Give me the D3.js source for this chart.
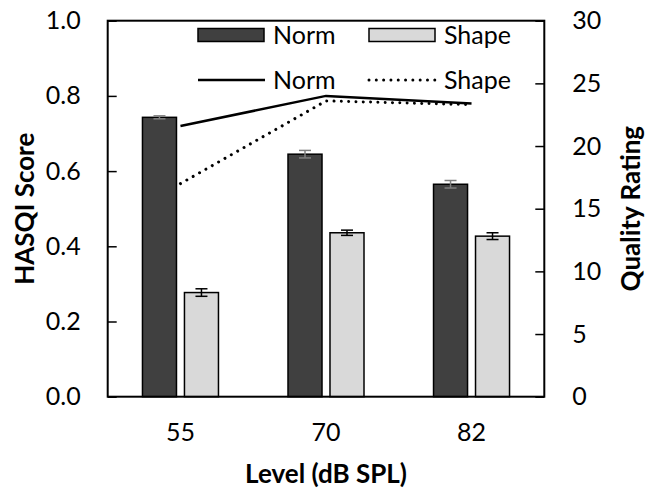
<!DOCTYPE html>
<html>
<head>
<meta charset="utf-8">
<script src="https://cdn.jsdelivr.net/npm/d3@7"></script>
<style>
  body { margin: 0; background: #fff; }
  text { font-family: Lato, "Open Sans", sans-serif; fill: #000; }
</style>
</head>
<body>
<script>
// data
const levels = ["55", "70", "82"];
const series = ["Norm", "Shape"];
const hasqiNorm = [0.743, 0.645, 0.565];
const hasqiNormErr = [0.004, 0.010, 0.010];
const hasqiShape = [0.277, 0.436, 0.427];
const hasqiShapeErr = [0.010, 0.007, 0.009];
const qualityNorm = [21.6, 24.0, 23.4];
const qualityShape = [17.0, 23.6, 23.3];
const leftTicks = [0, 0.2, 0.4, 0.6, 0.8, 1.0];
const rightTicks = [0, 5, 10, 15, 20, 25, 30];

const W = 646, H = 495;
const plotL = 107.7, plotR = 544.3, plotT = 20.7, plotB = 396.7;
const tickFont = 25, titleFont = 26;

const svg = d3.select('body')
    .append('svg')
    .attr('width', W)
    .attr('height', H)

const x = d3.scaleBand().domain(levels).range([plotL, plotR]).padding(0)
const xs = d3.scaleBand().domain(series).range([-38, 38]).paddingInner(0.19)
const y = d3.scaleLinear().domain([0, 1]).range([plotB, plotT])
const y2 = d3.scaleLinear().domain([0, 30]).range([plotB, plotT])

const cx = d => x(d) + x.bandwidth() / 2

// bars
const bars = []
levels.forEach((l, i) => {
    bars.push({ level: l, s: "Norm", v: hasqiNorm[i], e: hasqiNormErr[i], fill: "#404040", ebar: "#7f7f7f" })
    bars.push({ level: l, s: "Shape", v: hasqiShape[i], e: hasqiShapeErr[i], fill: "#d9d9d9", ebar: "#000" })
})

svg.selectAll('rect.bar')
    .data(bars)
    .join('rect')
    .attr('class', 'bar')
    .attr('x', d => cx(d.level) + xs(d.s))
    .attr('width', xs.bandwidth())
    .attr('y', d => y(d.v))
    .attr('height', d => y(0) - y(d.v))
    .attr('fill', d => d.fill)
    .attr('stroke', '#000')
    .attr('stroke-width', 1.5)

// error bars
const eb = svg.selectAll('g.err')
    .data(bars)
    .join('g')
    .attr('class', 'err')
    .attr('stroke', d => d.ebar)
    .attr('stroke-width', 1.5)
eb.append('line')
    .attr('x1', d => cx(d.level) + xs(d.s) + xs.bandwidth() / 2)
    .attr('x2', d => cx(d.level) + xs(d.s) + xs.bandwidth() / 2)
    .attr('y1', d => y(d.v - d.e))
    .attr('y2', d => y(d.v + d.e))
eb.selectAll('line.cap')
    .data(d => [d.v - d.e, d.v + d.e].map(v => ({ v, d })))
    .join('line')
    .attr('class', 'cap')
    .attr('x1', o => cx(o.d.level) + xs(o.d.s) + xs.bandwidth() / 2 - 6)
    .attr('x2', o => cx(o.d.level) + xs(o.d.s) + xs.bandwidth() / 2 + 6)
    .attr('y1', o => y(o.v))
    .attr('y2', o => y(o.v))

// quality lines on right axis
const line = d3.line().x((d, i) => cx(levels[i])).y(d => y2(d))
svg.append('path')
    .attr('d', line(qualityNorm))
    .attr('fill', 'none')
    .attr('stroke', '#000')
    .attr('stroke-width', 2.5)
svg.append('path')
    .attr('d', line(qualityShape))
    .attr('fill', 'none')
    .attr('stroke', '#000')
    .attr('stroke-width', 3)
    .attr('stroke-linecap', 'round')
    .attr('stroke-dasharray', '0.01 7.3')

// axes
svg.append('g')
    .attr('transform', `translate(${plotL},0)`)
    .call(d3.axisLeft(y).tickValues(leftTicks).tickFormat(d3.format('.1f')).tickSizeInner(-9).tickSizeOuter(0).tickPadding(27))
svg.append('g')
    .attr('transform', `translate(${plotR},0)`)
    .call(d3.axisRight(y2).tickValues(rightTicks).tickSizeInner(-9).tickSizeOuter(0).tickPadding(28))
svg.append('g')
    .attr('transform', `translate(0,${plotB})`)
    .call(d3.axisBottom(x).tickSize(0).tickPadding(27))

svg.selectAll('.domain').remove()
svg.selectAll('.tick line').attr('stroke', '#000').attr('stroke-width', 1.5)
svg.selectAll('.tick text')
    .style('font-size', tickFont + 'px')
    .style('font-family', 'Lato, sans-serif')
    .attr('fill', '#000')

// plot frame
svg.append('rect')
    .attr('x', plotL)
    .attr('y', plotT)
    .attr('width', plotR - plotL)
    .attr('height', plotB - plotT)
    .attr('fill', 'none')
    .attr('stroke', '#000')
    .attr('stroke-width', 2)

// titles
svg.append('text')
    .attr('transform', `translate(25,${(plotT + plotB) / 2}) rotate(-90)`)
    .attr('text-anchor', 'middle')
    .attr('dy', '0.35em')
    .style('font-size', titleFont + 'px')
    .style('font-weight', 'bold')
    .text('HASQI Score')
svg.append('text')
    .attr('transform', `translate(631,${(plotT + plotB) / 2}) rotate(-90)`)
    .attr('text-anchor', 'middle')
    .attr('dy', '0.35em')
    .style('font-size', titleFont + 'px')
    .style('font-weight', 'bold')
    .text('Quality Rating')
svg.append('text')
    .attr('x', (plotL + plotR) / 2)
    .attr('y', 483)
    .attr('text-anchor', 'middle')
    .style('font-size', titleFont + 'px')
    .style('font-weight', 'bold')
    .text('Level (dB SPL)')

// legend
const legX = [198, 369]
const lg = svg.append('g')
series.forEach((s, i) => {
    lg.append('rect')
        .attr('x', legX[i]).attr('y', 28.5)
        .attr('width', 66).attr('height', 13)
        .attr('fill', i === 0 ? '#404040' : '#d9d9d9')
        .attr('stroke', '#000').attr('stroke-width', 1.5)
    lg.append('text')
        .attr('x', legX[i] + 75).attr('y', 35)
        .attr('dy', '0.35em')
        .style('font-size', tickFont + 'px')
        .text(s)
    lg.append('line')
        .attr('x1', legX[i]).attr('x2', legX[i] + 67)
        .attr('y1', 80).attr('y2', 80)
        .attr('stroke', '#000')
        .attr('stroke-width', i === 0 ? 2.5 : 3)
        .attr('stroke-linecap', i === 0 ? 'butt' : 'round')
        .attr('stroke-dasharray', i === 0 ? null : '0.01 7.3')
    lg.append('text')
        .attr('x', legX[i] + 75).attr('y', 80)
        .attr('dy', '0.35em')
        .style('font-size', tickFont + 'px')
        .text(s)
})
</script>
</body>
</html>
